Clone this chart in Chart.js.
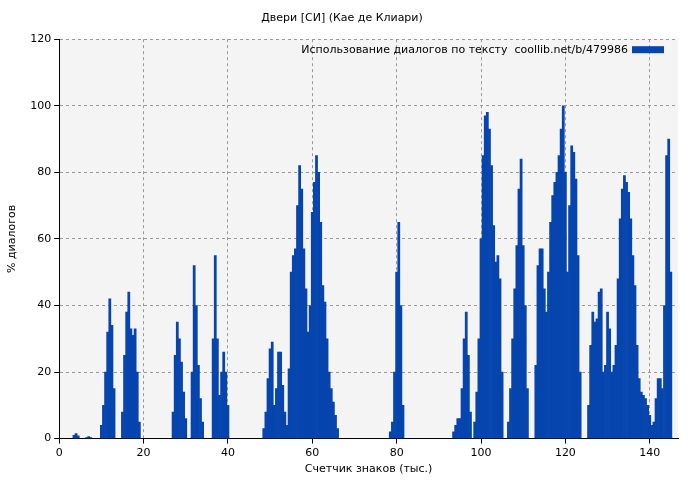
<!DOCTYPE html>
<html>
<head>
<meta charset="utf-8">
<script src="https://cdn.jsdelivr.net/npm/chart.js@4.4.0/dist/chart.umd.min.js"></script>
<style>
body { margin: 0; background: #ffffff; }
#wrap { width: 700px; height: 480px; }
</style>
</head>
<body>
<div id="wrap"><canvas id="c"></canvas></div>
<script>
const chartTitle = "Двери [СИ] (Кае де Клиари)";
const legendLabel = "Использование диалогов по тексту  coollib.net/b/479986";

// thousands of characters
const charCount = [
    3.5, 4, 4.5, 6.5, 7, 7.5,
    10, 10.5, 11, 11.5, 12, 12.5, 13,
    15, 15.5, 16, 16.5, 17, 17.5, 18, 18.5, 19,
    27, 27.5, 28, 28.5, 29, 29.5, 30,
    31.5, 32, 32.5, 33, 33.5, 34,
    36.5, 37, 37.5, 38, 38.5, 39, 39.5, 40,
    48.5, 49, 49.5, 50, 50.5, 51, 51.5, 52, 52.5, 53, 53.5, 54,
    54.5, 55, 55.5, 56, 56.5, 57, 57.5, 58, 58.5, 59, 59.5, 60, 60.5, 61, 61.5, 62, 62.5, 63, 63.5, 64, 64.5, 65, 65.5, 66,
    78.5, 79, 79.5, 80, 80.5, 81, 81.5,
    93.5, 94, 94.5, 95, 95.5, 96, 96.5, 97, 97.5,
    98.5, 99, 99.5, 100, 100.5, 101, 101.5, 102, 102.5, 103, 103.5, 104, 104.5, 105,
    106.5, 107, 107.5, 108, 108.5, 109, 109.5, 110, 110.5, 111,
    113, 113.5, 114, 114.5, 115, 115.5, 116, 116.5, 117, 117.5, 118, 118.5, 119, 119.5, 120, 120.5, 121, 121.5, 122, 122.5, 123, 123.5,
    125.5, 126, 126.5, 127, 127.5, 128, 128.5, 129, 129.5, 130, 130.5, 131, 131.5, 132, 132.5, 133, 133.5, 134, 134.5, 135, 135.5, 136, 136.5, 137, 137.5, 138, 138.5, 139, 139.5, 140, 140.5, 141, 141.5, 142, 142.5, 143, 143.5, 144, 144.5, 145
];
const dialogPct = [
    1, 1.5, 0.8, 0.3, 0.6, 0.3,
    4, 10, 20, 32, 42, 34, 15,
    8, 25, 38, 44, 33, 31, 33, 20, 5,
    8, 25, 35, 30, 23, 14, 6,
    20, 52, 40, 22, 12, 5,
    30, 55, 30, 13, 20, 26, 20, 10,
    3, 8, 18, 27, 29, 10, 15, 26, 26, 16, 8, 4,
    21, 50, 55, 57, 70, 82, 75, 57, 45, 32, 40, 68, 77, 85, 80, 65, 46, 41, 30, 20, 15, 11, 7, 3,
    2, 5, 20, 50, 65, 40, 10,
    2, 4, 6, 6, 15, 30, 38, 25, 8,
    5, 14, 30, 60, 85, 97, 98, 93, 82, 64, 53, 55, 48, 20,
    5, 15, 30, 45, 58, 75, 84, 58, 40, 15,
    22, 52, 57, 57, 45, 38, 50, 65, 73, 77, 80, 85, 93, 100, 80, 50, 70, 88, 86, 78, 55, 20,
    10, 28, 38, 35, 36, 44, 45, 20, 22, 38, 33, 20, 22, 28, 48, 66, 75, 79, 77, 74, 66, 55, 46, 28, 18, 14, 13, 12, 10, 7, 4, 5, 12, 18, 18, 15, 40, 85, 90, 50
];
const xTicks = [0, 20, 40, 60, 80, 100, 120, 140];
const yTicks = [0, 20, 40, 60, 80, 100, 120];

const points = charCount.map((x, i) => ({ x: x, y: dialogPct[i] }));

const plotBg = {
    id: "plotBg",
    beforeDraw(chart) {
        const a = chart.chartArea;
        const ctx = chart.ctx;
        ctx.save();
        ctx.fillStyle = "#f4f4f4";
        ctx.fillRect(a.left, a.top, a.right - a.left, a.bottom - a.top);
        ctx.restore();
    },
    afterDraw(chart) {
        const a = chart.chartArea;
        const ctx = chart.ctx;
        ctx.save();
        ctx.font = "11px 'DejaVu Sans'";
        ctx.fillStyle = "#000";
        ctx.textAlign = "right";
        ctx.textBaseline = "middle";
        ctx.fillText(legendLabel, a.right - 50, a.top + 11);
        ctx.fillStyle = "#0645ad";
        ctx.fillRect(a.right - 46, a.top + 7, 32, 7);
        ctx.restore();
    }
};

const axisFont = { family: "DejaVu Sans", size: 11 };

new Chart(document.getElementById("c"), {
    type: "bar",
    data: {
        datasets: [{
            data: points,
            backgroundColor: "#0645ad",
            borderWidth: 0,
            barPercentage: 1,
            categoryPercentage: 1
        }]
    },
    options: {
        responsive: true,
        maintainAspectRatio: false,
        animation: false,
        layout: { padding: { left: 6, right: 22, top: 0, bottom: 0 } },
        plugins: {
            legend: { display: false },
            tooltip: { enabled: false },
            title: {
                display: true,
                text: chartTitle,
                color: "#000",
                font: { family: "DejaVu Sans", size: 11, weight: "normal" },
                padding: { top: 12, bottom: 14 }
            }
        },
        scales: {
            x: {
                type: "linear",
                offset: false,
                min: 0,
                max: 146.7,
                afterBuildTicks: s => { s.ticks = xTicks.map(v => ({ value: v })); },
                ticks: { color: "#000", font: axisFont, maxRotation: 0 },
                grid: { offset: false, color: "#999", tickColor: "#000", tickLength: 5 },
                border: { color: "#000", width: 1, dash: [3, 3] },
                title: { display: true, text: "Счетчик знаков (тыс.)", color: "#000", font: axisFont, padding: { top: 0, bottom: 4 } }
            },
            y: {
                min: 0,
                max: 120,
                afterBuildTicks: s => { s.ticks = yTicks.map(v => ({ value: v })); },
                ticks: { color: "#000", font: axisFont },
                grid: { color: "#999", tickColor: "#000", tickLength: 5 },
                border: { color: "#000", width: 1, dash: [3, 3] },
                title: { display: true, text: "% диалогов", color: "#000", font: axisFont, padding: { top: 0, bottom: 8 } }
            }
        }
    },
    plugins: [plotBg]
});
</script>
</body>
</html>
